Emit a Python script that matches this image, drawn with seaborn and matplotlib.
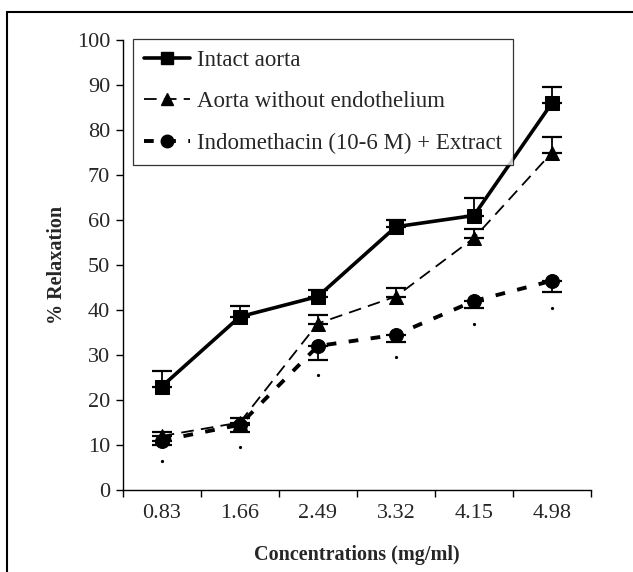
import matplotlib
matplotlib.use("Agg")
import matplotlib.pyplot as plt
import seaborn as sns
import pandas as pd
import numpy as np
from matplotlib.lines import Line2D

concentrations = ["0.83", "1.66", "2.49", "3.32", "4.15", "4.98"]
intact = [23, 38.5, 43, 58.5, 61, 86]
intact_err = [3.5, 2.5, 1.5, 1.5, 4, 3.5]
no_endo = [12, 15, 37, 43, 56, 75]
no_endo_err = [1, 1, 2, 2, 2, 3.5]
indo = [11, 14.5, 32, 34.5, 42, 46.5]
indo_err = [1, 1.5, 3, 1.5, 1.5, 2.5]
sig_gap = 3.5

series_names = ["Intact aorta", "Aorta without endothelium", "Indomethacin (10-6 M) + Extract"]

sns.set_style("white")
plt.rcParams['font.family'] = ['Liberation Serif', 'DejaVu Serif']

fig = plt.figure(figsize=(6.33, 5.72), dpi=100)
ax = fig.add_axes([122.7/633, 1-490/572, (591-122.7)/633, (490-40)/572])

pos = np.arange(len(concentrations))
df = pd.DataFrame({"pos": np.tile(pos, 3),
                   "value": intact + no_endo + indo,
                   "series": np.repeat(series_names, len(pos))})

styles = {
    series_names[0]: dict(marker="s", lw=2.6, dashes=None, ms=9.5),
    series_names[1]: dict(marker="^", lw=1.3, dashes=(7, 4), ms=9.5),
    series_names[2]: dict(marker="o", lw=2.8, dashes=(2.5, 3.2), ms=10),
}
errs = {series_names[0]: (intact_err, "up"),
        series_names[1]: (no_endo_err, "up"),
        series_names[2]: (indo_err, "down")}

for name in series_names:
    sub = df[df.series == name]
    st = styles[name]
    e, d = errs[name]
    e = np.array(e)
    yerr = [np.zeros_like(e), e] if d == "up" else [e, np.zeros_like(e)]
    ax.errorbar(sub.pos, sub.value, yerr=yerr, fmt="none", ecolor="black",
                elinewidth=1.3, capsize=7.5, capthick=1.6, zorder=2)
    ls = "-" if st["dashes"] is None else (0, st["dashes"])
    sns.lineplot(x=sub.pos.values, y=sub.value.values, ax=ax, color="black",
                 lw=st["lw"], marker=st["marker"], markersize=st["ms"],
                 markeredgecolor="black", zorder=3, linestyle=ls)

# significance marks below indomethacin points
for p, v, e in zip(pos, indo, indo_err):
    ax.plot(p, v - e - sig_gap, marker="o", ms=1.3, color="black", ls="none")

ax.set_xlim(-0.5, len(concentrations) - 0.5)
ax.set_ylim(0, 100)
ax.set_yticks(np.arange(0, 101, 10))
ax.set_xticks(pos)
ax.set_xticklabels(concentrations)
ax.set_xticks(np.arange(-0.5, len(concentrations), 1.0), minor=True)
ax.tick_params(axis="x", which="major", length=0, labelsize=16, pad=10)
ax.tick_params(axis="x", which="minor", length=5, width=1, direction="out", color="black", bottom=True)
ax.tick_params(axis="y", length=5, width=1, direction="out", color="black", labelsize=16, left=True, pad=4)
for s in ["top", "right"]:
    ax.spines[s].set_visible(False)
for s in ["left", "bottom"]:
    ax.spines[s].set_color("black")
    ax.spines[s].set_linewidth(1.0)
ax.set_xlabel("Concentrations (mg/ml)", fontsize=14.5, fontweight="bold", labelpad=16)
ax.set_ylabel("% Relaxation", fontsize=14.5, fontweight="bold", labelpad=7)

handles = [
    Line2D([], [], color="black", lw=2.6, marker="s", ms=9),
    Line2D([], [], color="black", lw=1.3, ls=(0, (7, 4)), marker="^", ms=9),
    Line2D([], [], color="black", lw=2.8, ls=(0, (2.5, 3.2)), marker="o", ms=9),
]
leg = ax.legend(handles, series_names, loc="upper left", bbox_to_anchor=(10/468, 1.003),
                frameon=True, fancybox=False, edgecolor="black", fontsize=16.5,
                handlelength=2.0, handletextpad=0.3, labelspacing=0.88,
                borderpad=0.5, borderaxespad=0)
leg.get_frame().set_linewidth(0.9)

# outer border of the figure (top and left visible)
fig.add_artist(Line2D([7/633, 7/633], [0, 1-12/572], transform=fig.transFigure, color="black", lw=1.5))
fig.add_artist(Line2D([7/633, 1], [1-12/572, 1-12/572], transform=fig.transFigure, color="black", lw=1.5))

fig.savefig("out.png", dpi=100)
